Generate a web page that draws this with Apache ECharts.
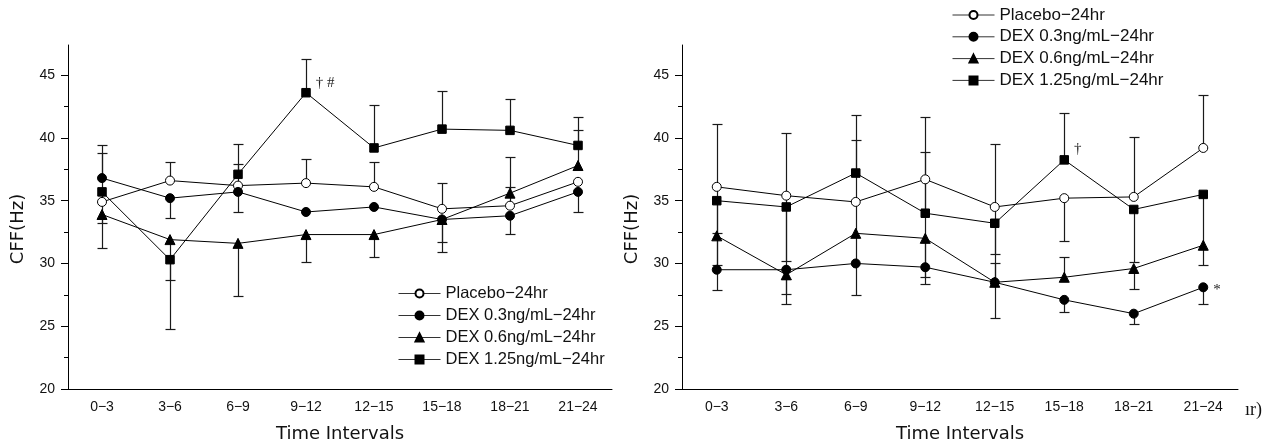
<!DOCTYPE html>
<html>
<head>
<meta charset="utf-8">
<script src="https://cdn.jsdelivr.net/npm/echarts@6/dist/echarts.min.js"></script>
<style>
html,body{margin:0;padding:0;background:#fff;}
#chart{width:1275px;height:448px;}
</style>
</head>
<body>
<div id="chart"></div>
<script>
// ---------- DATA ----------
const categories = ['0\u22123', '3\u22126', '6\u22129', '9\u221212', '12\u221215', '15\u221218', '18\u221221', '21\u221224'];
const seriesNames = ['Placebo\u221224hr', 'DEX 0.3ng/mL\u221224hr', 'DEX 0.6ng/mL\u221224hr', 'DEX 1.25ng/mL\u221224hr'];
const yMajorTicks = [20, 25, 30, 35, 40, 45];
const yMinorTicks = [22.5, 27.5, 32.5, 37.5, 42.5];
const yMin = 20, yMax = 47.4;

// Left panel
const leftPlacebo   = [34.9, 36.6, 36.2, 36.4, 36.1, 34.35, 34.6, 36.5];
const leftPlaceboHi = [38.8, 38.1, 37.9, 38.3, 38.1, 36.4, 36.1, null];
const leftPlaceboLo = [null, null, null, null, null, null, null, null];
const leftDex03     = [36.8, 35.2, 35.7, 34.1, 34.5, 33.5, 33.8, 35.7];
const leftDex03Hi   = [39.4, null, null, null, null, null, null, null];
const leftDex03Lo   = [null, 33.6, 34.1, null, null, 31.7, 32.35, 34.1];
const leftDex06     = [33.9, 31.9, 31.6, 32.3, 32.3, 33.5, 35.6, 37.8];
const leftDex06Hi   = [null, null, null, null, null, null, 38.5, 40.6];
const leftDex06Lo   = [31.2, 28.7, 27.4, 30.1, 30.5, 30.9, null, null];
const leftDex125    = [35.7, 30.3, 37.1, 43.6, 39.2, 40.7, 40.6, 39.4];
const leftDex125Hi  = [null, null, 39.5, 46.3, 42.6, 43.7, 43.1, 41.7];
const leftDex125Lo  = [33.2, 24.8, null, null, null, null, null, null];
const leftDex125Note = ['', '', '', '\u2020 #', '', '', '', ''];

// Right panel
const rightPlacebo   = [36.1, 35.4, 34.9, 36.7, 34.5, 35.2, 35.3, 39.2];
const rightPlaceboHi = [41.1, 40.4, 39.8, 41.7, 39.5, null, 40.1, 43.4];
const rightPlaceboLo = [27.9, 26.75, 27.5, 28.4, 25.65, 31.8, null, null];
const rightDex03     = [29.5, 29.5, 30.0, 29.7, 28.5, 27.1, 26.0, 28.1];
const rightDex03Hi   = [null, null, null, null, null, null, null, null];
const rightDex03Lo   = [null, 27.6, null, null, null, 26.1, 25.15, 26.75];
const rightDex03Note = ['', '', '', '', '', '', '', '*'];
const rightDex06     = [32.2, 29.1, 32.4, 32.0, 28.5, 28.9, 29.6, 31.45];
const rightDex06Hi   = [32.4, null, null, null, 30.05, 30.55, null, null];
const rightDex06Lo   = [null, 28.8, null, 28.9, null, null, 28.0, null];
const rightDex125    = [35.0, 34.5, 37.2, 34.0, 33.2, 38.25, 34.3, 35.5];
const rightDex125Hi  = [null, null, 41.8, 38.9, null, 42.0, null, null];
const rightDex125Lo  = [29.9, 30.2, null, null, 30.75, null, 30.1, 29.9];
const rightDex125Note = ['', '', '', '', '', '\u2020', '', ''];

// ---------- STYLE ----------
const SANS = '"Liberation Sans", Arial, sans-serif';
const TITLE_FONT = '"DejaVu Sans", sans-serif';
const SERIF = '"Liberation Serif", serif';
const markers = [
  { symbol: 'circle', size: 9, fill: '#ffffff' },
  { symbol: 'circle', size: 9, fill: '#000000' },
  { symbol: 'triangle', size: 10, fill: '#000000' },
  { symbol: 'rect', size: 8.5, fill: '#000000' }
];

const panels = [
  { means: [leftPlacebo, leftDex03, leftDex06, leftDex125],
    his: [leftPlaceboHi, leftDex03Hi, leftDex06Hi, leftDex125Hi],
    los: [leftPlaceboLo, leftDex03Lo, leftDex06Lo, leftDex125Lo],
    notes: [null, null, null, leftDex125Note],
    noteOffset: [[0,0],[0,0],[0,0],[0,-10]] },
  { means: [rightPlacebo, rightDex03, rightDex06, rightDex125],
    his: [rightPlaceboHi, rightDex03Hi, rightDex06Hi, rightDex125Hi],
    los: [rightPlaceboLo, rightDex03Lo, rightDex06Lo, rightDex125Lo],
    notes: [null, rightDex03Note, null, rightDex125Note],
    noteOffset: [[0,0],[0,3],[0,0],[0,-11]] }
];

function errRender(params, api) {
  const x = api.value(0), m = api.value(1), e = api.value(2);
  const p0 = api.coord([x, m]);
  const p1 = api.coord([x, e]);
  const w = 5;
  const sx = Math.round(p0[0]) + 0.5;
  const ey = Math.round(p1[1]) + 0.5;
  return {
    type: 'group',
    children: [
      { type: 'line', shape: { x1: sx, y1: p0[1], x2: sx, y2: ey }, style: { stroke: '#1a1a1a', lineWidth: 1.2 } },
      { type: 'line', shape: { x1: sx - w, y1: ey, x2: sx + w, y2: ey }, style: { stroke: '#1a1a1a', lineWidth: 1.2 } }
    ]
  };
}

const series = [];
panels.forEach((p, gi) => {
  p.means.forEach((m, si) => {
    const d = [];
    m.forEach((v, i) => {
      if (p.his[si][i] != null) d.push([i, v, p.his[si][i]]);
      if (p.los[si][i] != null) d.push([i, v, p.los[si][i]]);
    });
    series.push({
      type: 'custom', name: 'err' + gi + '_' + si,
      xAxisIndex: gi, yAxisIndex: gi * 2,
      renderItem: errRender, data: d, encode: { x: 0, y: [1, 2] },
      z: 1, silent: true, clip: false
    });
  });
  p.means.forEach((m, si) => {
    const mk = markers[si];
    const notes = p.notes[si];
    const data = m.map((v, i) => {
      if (notes && notes[i]) {
        return { value: v, label: { show: true, formatter: notes[i], position: 'right', distance: 5,
          offset: p.noteOffset[si], fontFamily: SERIF, fontSize: 15, color: '#222' } };
      }
      return v;
    });
    series.push({
      type: 'line', name: seriesNames[si],
      xAxisIndex: gi, yAxisIndex: gi * 2,
      data: data, symbol: mk.symbol, symbolSize: mk.size, showAllSymbol: true,
      lineStyle: { color: '#000', width: 1 },
      itemStyle: { color: mk.fill, borderColor: '#000', borderWidth: 1 },
      emphasis: { disabled: true },
      z: 3 + si, animation: false
    });
  });
});

function xAxisDef(gi) {
  return {
    type: 'category', gridIndex: gi, data: categories, boundaryGap: true,
    axisLine: { lineStyle: { color: '#000', width: 1 } },
    axisTick: { alignWithLabel: true, length: 7, lineStyle: { color: '#000' } },
    axisLabel: { fontFamily: SANS, fontSize: 14, color: '#111', margin: 11 },
    name: 'Time Intervals', nameLocation: 'middle', nameGap: 36,
    nameTextStyle: { fontFamily: TITLE_FONT, fontSize: 18, color: '#111' },
    splitLine: { show: false }
  };
}
function yAxisMajor(gi) {
  return {
    type: 'value', gridIndex: gi, min: yMin, max: yMax, interval: 5,
    axisLine: { show: true, lineStyle: { color: '#000', width: 1 } },
    axisTick: { show: true, length: 7, customValues: yMajorTicks, lineStyle: { color: '#000' } },
    axisLabel: { fontFamily: SANS, fontSize: 14, color: '#111', margin: 13, customValues: yMajorTicks },
    splitLine: { show: false }
  };
}
function yAxisMinor(gi) {
  return {
    type: 'value', gridIndex: gi, min: yMin, max: yMax, interval: 5, position: 'left',
    axisLine: { show: false },
    axisTick: { show: true, length: 4, customValues: yMinorTicks, lineStyle: { color: '#000' } },
    axisLabel: { show: false },
    splitLine: { show: false }
  };
}

function legendDef(left, top, gap, fs) {
  return {
    orient: 'vertical', left: left, top: top, padding: 0,
    itemWidth: 42, itemHeight: 10, itemGap: gap,
    data: seriesNames,
    lineStyle: { width: 1, color: '#333' },
    textStyle: { fontFamily: SANS, fontSize: fs, color: '#111', lineHeight: 12 },
    selectedMode: false
  };
}

const option = {
  backgroundColor: '#fff',
  animation: false,
  grid: [
    { left: 68, top: 45, width: 544, height: 346 },
    { left: 682, top: 45, width: 556, height: 345.3 }
  ],
  xAxis: [xAxisDef(0), xAxisDef(1)],
  yAxis: [yAxisMajor(0), yAxisMinor(0), yAxisMajor(1), yAxisMinor(1)],
  legend: [legendDef(398, 285, 5, 16.5), legendDef(952, 6.5, 4.8, 17)],
  series: series,
  graphic: [
    { type: 'text', x: 18, y: 229, rotation: Math.PI / 2,
      style: { text: 'CFF(Hz)', font: '18px "DejaVu Sans", sans-serif', fill: '#111', align: 'center', verticalAlign: 'middle' } },
    { type: 'text', x: 632, y: 229, rotation: Math.PI / 2,
      style: { text: 'CFF(Hz)', font: '18px "DejaVu Sans", sans-serif', fill: '#111', align: 'center', verticalAlign: 'middle' } },
    { type: 'text', x: 1245, y: 410,
      style: { text: '\u0131r)', font: '18px "Liberation Serif", serif', fill: '#111', align: 'left', verticalAlign: 'middle' } }
  ]
};

const chart = echarts.init(document.getElementById('chart'), null, { renderer: 'canvas' });
chart.setOption(option);
</script>
</body>
</html>
